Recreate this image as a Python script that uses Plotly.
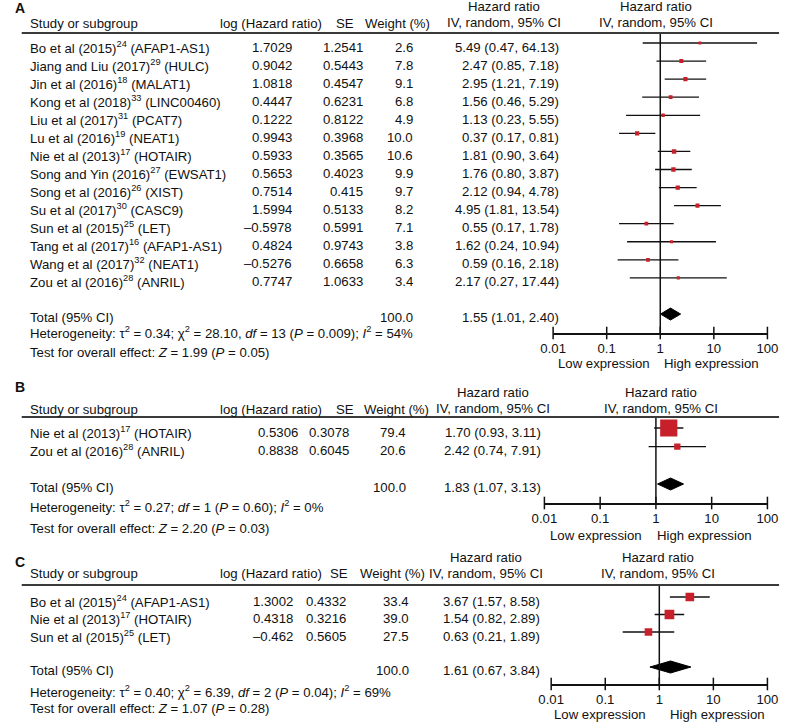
import plotly.graph_objects as go

W, H = 792, 722
FONT = "Liberation Sans, Arial, sans-serif"
FS = 13.2
RED = "#c8202a"
INK = "#111111"

# ---------------- Panel A data ----------------
a_authors = ["Bo et al (2015)", "Jiang and Liu (2017)", "Jin et al (2016)", "Kong et al (2018)",
             "Liu et al (2017)", "Lu et al (2016)", "Nie et al (2013)", "Song and Yin (2016)",
             "Song et al (2016)", "Su et al (2017)", "Sun et al (2015)", "Tang et al (2017)",
             "Wang et al (2017)", "Zou et al (2016)"]
a_refs = ["24", "29", "18", "33", "31", "19", "17", "27", "26", "30", "25", "16", "32", "28"]
a_genes = ["AFAP1-AS1", "HULC", "MALAT1", "LINC00460", "PCAT7", "NEAT1", "HOTAIR", "EWSAT1",
           "XIST", "CASC9", "LET", "AFAP1-AS1", "NEAT1", "ANRIL"]
a_loghr = [1.7029, 0.9042, 1.0818, 0.4447, 0.1222, 0.9943, 0.5933, 0.5653, 0.7514, 1.5994,
           -0.5978, 0.4824, -0.5276, 0.7747]
a_se = [1.2541, 0.5443, 0.4547, 0.6231, 0.8122, 0.3968, 0.3565, 0.4023, 0.415, 0.5133,
        0.5991, 0.9743, 0.6658, 1.0633]
a_weight = [2.6, 7.8, 9.1, 6.8, 4.9, 10.0, 10.6, 9.9, 9.7, 8.2, 7.1, 3.8, 6.3, 3.4]
a_hr = [5.49, 2.47, 2.95, 1.56, 1.13, 0.37, 1.81, 1.76, 2.12, 4.95, 0.55, 1.62, 0.59, 2.17]
a_lo = [0.47, 0.85, 1.21, 0.46, 0.23, 0.17, 0.90, 0.80, 0.94, 1.81, 0.17, 0.24, 0.16, 0.27]
a_hi = [64.13, 7.18, 7.19, 5.29, 5.55, 0.81, 3.64, 3.87, 4.78, 13.54, 1.78, 10.94, 2.18, 17.44]
a_total_weight = 100.0
a_total = [1.55, 1.01, 2.40]
a_het = ["0.34", "28.10", "13", "0.009", "54"]   # tau2, chi2, df, P, I2
a_test = ["1.99", "0.05"]                        # Z, P

# ---------------- Panel B data ----------------
b_authors = ["Nie et al (2013)", "Zou et al (2016)"]
b_refs = ["17", "28"]
b_genes = ["HOTAIR", "ANRIL"]
b_loghr = [0.5306, 0.8838]
b_se = [0.3078, 0.6045]
b_weight = [79.4, 20.6]
b_hr = [1.70, 2.42]
b_lo = [0.93, 0.74]
b_hi = [3.11, 7.91]
b_total_weight = 100.0
b_total = [1.83, 1.07, 3.13]
b_het = ["0.27", None, "1", "0.60", "0"]
b_test = ["2.20", "0.03"]

# ---------------- Panel C data ----------------
c_authors = ["Bo et al (2015)", "Nie et al (2013)", "Sun et al (2015)"]
c_refs = ["24", "17", "25"]
c_genes = ["AFAP1-AS1", "HOTAIR", "LET"]
c_loghr = [1.3002, 0.4318, -0.462]
c_se = [0.4332, 0.3216, 0.5605]
c_weight = [33.4, 39.0, 27.5]
c_hr = [3.67, 1.54, 0.63]
c_lo = [1.57, 0.82, 0.21]
c_hi = [8.58, 2.89, 1.89]
c_total_weight = 100.0
c_total = [1.61, 0.67, 3.84]
c_het = ["0.40", "6.39", "2", "0.04", "69"]
c_test = ["1.07", "0.28"]

tick_vals = [0.01, 0.1, 1, 10, 100]
tick_text = ["0.01", "0.1", "1", "10", "100"]

panels = [
    dict(letter="A", authors=a_authors, refs=a_refs, genes=a_genes, loghr=a_loghr, se=a_se,
         weight=a_weight, hr=a_hr, lo=a_lo, hi=a_hi, tw=a_total_weight, total=a_total,
         het=a_het, test=a_test,
         g=dict(label_y=8, hdr1=6, hdr2=22, study_y=23, rule=33, row0=43, sp=18.07, axis=333,
                het_y=333, test_y=352, x0=557, x1=778, log_hdr=213, se_hdr=333, wt_hdr=363,
                log_r=288, se_r=361, wt_r=412, hr_r=563, hr_c=506, fo_c=663,
                low_c=609, high_c=720, low_y=364)),
    dict(letter="B", authors=b_authors, refs=b_refs, genes=b_genes, loghr=b_loghr, se=b_se,
         weight=b_weight, hr=b_hr, lo=b_lo, hi=b_hi, tw=b_total_weight, total=b_total,
         het=b_het, test=b_test,
         g=dict(label_y=387, hdr1=392, hdr2=408, study_y=409, rule=417, row0=428, sp=18.67, axis=503,
                het_y=507, test_y=528, x0=548, x1=778, log_hdr=213, se_hdr=333, wt_hdr=362,
                log_r=294, se_r=347, wt_r=405, hr_r=544, hr_c=495, fo_c=668,
                low_c=601, high_c=713, low_y=535)),
    dict(letter="C", authors=c_authors, refs=c_refs, genes=c_genes, loghr=c_loghr, se=c_se,
         weight=c_weight, hr=c_hr, lo=c_lo, hi=c_hi, tw=c_total_weight, total=c_total,
         het=c_het, test=c_test,
         g=dict(label_y=562, hdr1=557, hdr2=573, study_y=573, rule=585, row0=597, sp=17.5, axis=684,
                het_y=691, test_y=708, x0=555, x1=778, log_hdr=213, se_hdr=327, wt_hdr=358,
                log_r=289, se_r=343, wt_r=408, hr_r=543, hr_c=488, fo_c=665,
                low_c=605, high_c=726, low_y=714)),
]

fig = go.Figure()
annotations = []
shapes = []


def ann(text, x_px, y, yref="paper", xanchor="left", yshift=0, size=FS, bold=False):
    if yref == "paper":
        y = 1 - y / H
    if bold:
        text = "<b>" + text + "</b>"
    annotations.append(dict(text=text, x=x_px / W, xref="paper", y=y, yref=yref,
                            xanchor=xanchor, yanchor="middle", yshift=yshift,
                            showarrow=False, borderpad=0, borderwidth=0,
                            font=dict(family=FONT, size=size, color=INK)))


def num(v):
    return str(v).replace("-", "\u2013")


for k, p in enumerate(panels, start=1):
    g = p["g"]
    xname = "x" if k == 1 else f"x{k}"
    yname = "y" if k == 1 else f"y{k}"
    xa = "xaxis" if k == 1 else f"xaxis{k}"
    ya = "yaxis" if k == 1 else f"yaxis{k}"
    n = len(p["authors"])
    sp = g["sp"]
    y_top = (g["rule"] - g["row0"]) / sp
    y_bot = (g["axis"] - g["row0"]) / sp
    tot_i = n + 1

    fig.update_layout({
        xa: dict(type="log", range=[-2, 2], domain=[g["x0"] / W, g["x1"] / W], anchor=yname,
                 showline=True, linecolor=INK, linewidth=1.5, showgrid=False, zeroline=False,
                 tickvals=tick_vals, ticktext=tick_text, ticks="", ticklabelstandoff=2,
                 tickfont=dict(family=FONT, size=FS, color=INK), fixedrange=True),
        ya: dict(range=[y_bot, y_top], domain=[1 - g["axis"] / H, 1 - g["rule"] / H],
                 anchor=xname, visible=False, showgrid=False, zeroline=False, fixedrange=True),
    })

    # CI lines
    cx, cy = [], []
    for i in range(n):
        cx += [p["lo"][i], p["hi"][i], None]
        cy += [i, i, None]
    fig.add_trace(go.Scatter(x=cx, y=cy, mode="lines", line=dict(color=INK, width=1.3),
                             xaxis=xname, yaxis=yname, hoverinfo="skip", showlegend=False))
    # weight squares
    fig.add_trace(go.Scatter(x=p["hr"], y=list(range(n)), mode="markers",
                             marker=dict(symbol="square", color=RED, opacity=1,
                                         size=[2.5 + 0.185 * w for w in p["weight"]],
                                         line=dict(width=0)),
                             xaxis=xname, yaxis=yname, showlegend=False))
    # pooled diamond
    est, lo, hi = p["total"]
    h = 6.0 / sp
    fig.add_trace(go.Scatter(x=[lo, est, hi, est, lo], y=[tot_i, tot_i - h, tot_i, tot_i + h, tot_i],
                             mode="lines", fill="toself", fillcolor="black",
                             line=dict(color="black", width=1), xaxis=xname, yaxis=yname,
                             hoverinfo="skip", showlegend=False))
    # crossing tick marks
    fig.add_trace(go.Scatter(x=tick_vals, y=[y_bot] * len(tick_vals), mode="markers",
                             marker=dict(symbol="line-ns", size=9, opacity=1,
                                         line=dict(width=1.5, color=INK)),
                             cliponaxis=False, xaxis=xname, yaxis=yname,
                             hoverinfo="skip", showlegend=False))
    # null line
    shapes.append(dict(type="line", xref=xname, yref=f"{yname} domain", x0=1, x1=1, y0=0, y1=1,
                       line=dict(color=INK, width=1.5)))
    # header rule
    shapes.append(dict(type="line", xref="paper", yref="paper", x0=9 / W, x1=790 / W,
                       y0=1 - g["rule"] / H, y1=1 - g["rule"] / H,
                       line=dict(color="#3a3a3a", width=2)))

    # panel letter + headers
    ann(p["letter"], 2, g["label_y"], bold=True, size=14)
    ann("Study or subgroup", 18, g["study_y"])
    ann("log (Hazard ratio)", g["log_hdr"], g["study_y"])
    ann("SE", g["se_hdr"], g["study_y"])
    ann("Weight (%)", g["wt_hdr"], g["study_y"])
    ann("Hazard ratio", g["hr_c"], g["hdr1"], xanchor="center")
    ann("IV, random, 95% CI", g["hr_c"], g["hdr2"], xanchor="center")
    ann("Hazard ratio", g["fo_c"], g["hdr1"], xanchor="center")
    ann("IV, random, 95% CI", g["fo_c"], g["hdr2"], xanchor="center")

    # study rows
    for i in range(n):
        ann(f"{p['authors'][i]}<sup>{p['refs'][i]}</sup> ({p['genes'][i]})", 18, i, yref=yname, yshift=-4)
        ann(num(p["loghr"][i]), g["log_r"], i, yref=yname, xanchor="right", yshift=-4)
        ann(num(p["se"][i]), g["se_r"], i, yref=yname, xanchor="right", yshift=-4)
        ann(f"{p['weight'][i]:.1f}", g["wt_r"], i, yref=yname, xanchor="right", yshift=-4)
        ann(f"{p['hr'][i]:.2f} ({p['lo'][i]:.2f}, {p['hi'][i]:.2f})", g["hr_r"], i, yref=yname,
            xanchor="right", yshift=-4)

    # total row
    ann("Total (95% CI)", 18, tot_i, yref=yname, yshift=-3)
    ann(f"{p['tw']:.1f}", g["wt_r"], tot_i, yref=yname, xanchor="right", yshift=-3)
    ann(f"{est:.2f} ({lo:.2f}, {hi:.2f})", g["hr_r"], tot_i, yref=yname, xanchor="right", yshift=-3)

    tau2, chi2, df, ph, i2 = p["het"]
    het = f"Heterogeneity: \u03c4<sup>2</sup> = {tau2}; "
    if chi2 is not None:
        het += f"\u03c7<sup>2</sup> = {chi2}, "
    het += f"<i>df</i> = {df} (<i>P</i> = {ph}); <i>I</i><sup>2</sup> = {i2}%"
    ann(het, 18, g["het_y"])
    z, pz = p["test"]
    ann(f"Test for overall effect: <i>Z</i> = {z} (<i>P</i> = {pz})", 18, g["test_y"])

    ann("Low expression", g["low_c"], g["low_y"], xanchor="center")
    ann("High expression", g["high_c"], g["low_y"], xanchor="center")

fig.update_layout(width=W, height=H, margin=dict(l=0, r=0, t=0, b=0),
                  paper_bgcolor="white", plot_bgcolor="white",
                  annotations=annotations, shapes=shapes, showlegend=False,
                  font=dict(family=FONT, size=FS, color=INK))

fig.write_html("out.html", post_script="document.body.style.margin='0px';",
               config={"displayModeBar": False})
